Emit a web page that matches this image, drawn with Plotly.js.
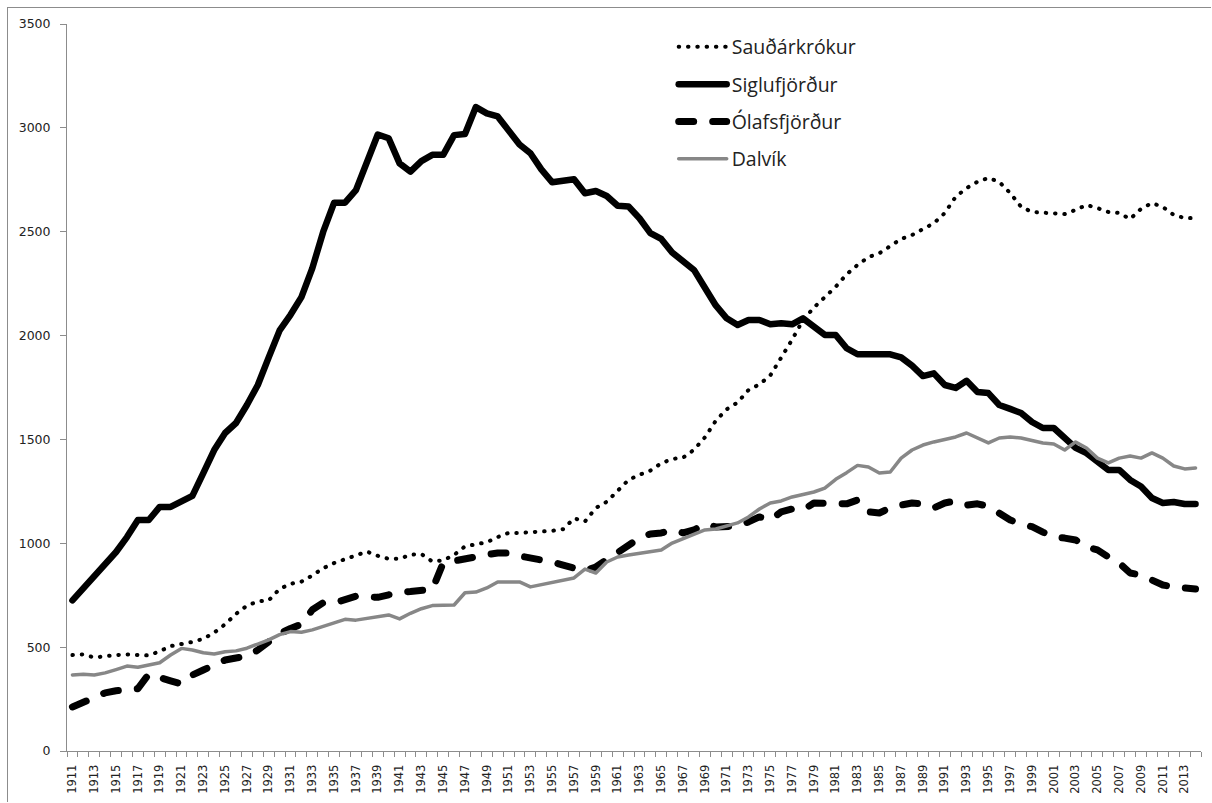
<!DOCTYPE html>
<html>
<head>
<meta charset="utf-8">
<script src="https://cdn.plot.ly/plotly-3.0.1.min.js"></script>
<style>
  html, body { margin: 0; padding: 0; background: #fff; }
  #wrap { position: relative; width: 1212px; height: 803px; }
  #chart { width: 1212px; height: 803px; }
  #frame { position: absolute; left: 7px; top: 7px; width: 1204px; height: 795px; border: 1px solid #8c8c8c; border-right: none; border-bottom: none; pointer-events: none; box-sizing: border-box; }
  .js-line { stroke-linecap: round !important; stroke-linejoin: round !important; }
</style>
</head>
<body>
<div id="wrap"><div id="chart"></div><div id="frame"></div></div>
<script>
const years = [1911,1912,1913,1914,1915,1916,1917,1918,1919,1920,
1921,1922,1923,1924,1925,1926,1927,1928,1929,1930,
1931,1932,1933,1934,1935,1936,1937,1938,1939,1940,
1941,1942,1943,1944,1945,1946,1947,1948,1949,1950,
1951,1952,1953,1954,1955,1956,1957,1958,1959,1960,
1961,1962,1963,1964,1965,1966,1967,1968,1969,1970,
1971,1972,1973,1974,1975,1976,1977,1978,1979,1980,
1981,1982,1983,1984,1985,1986,1987,1988,1989,1990,
1991,1992,1993,1994,1995,1996,1997,1998,1999,2000,
2001,2002,2003,2004,2005,2006,2007,2008,2009,2010,
2011,2012,2013,2014];

const saudarkrokur = [462,465,450,458,462,465,462,460,480,505,
515,525,540,570,610,660,700,720,725,780,
805,815,845,880,905,925,945,960,940,925,
925,945,948,912,918,944,985,995,1005,1030,
1050,1050,1052,1058,1060,1068,1120,1105,1170,1200,
1255,1305,1330,1350,1385,1406,1412,1450,1510,1590,
1645,1678,1738,1765,1808,1890,1980,2075,2135,2185,
2235,2295,2340,2378,2396,2431,2465,2484,2512,2541,
2590,2668,2710,2740,2759,2740,2686,2620,2595,2592,
2592,2585,2605,2629,2614,2595,2590,2561,2610,2638,
2619,2581,2566,2565];

const siglufjordur = [725,785,838,900,958,1030,1112,1112,1175,1175,
1199,1228,1338,1449,1531,1579,1666,1762,1895,2025,
2100,2185,2325,2500,2640,2640,2700,2835,2968,2950,
2829,2789,2840,2870,2870,2965,2970,3100,3070,3055,
2982,2920,2878,2800,2738,2748,2753,2685,2696,2672,
2625,2621,2565,2493,2465,2400,2356,2316,2230,2145,
2083,2051,2075,2075,2054,2059,2054,2083,2043,2003,
2003,1939,1910,1912,1915,1910,1895,1855,1805,1818,
1762,1748,1782,1728,1723,1666,1647,1627,1584,1555,
1555,1507,1459,1434,1391,1353,1353,1305,1273,1218,
1194,1199,1189,1189];

const olafsfjordur = [212,236,262,280,290,297,300,370,350,338,
323,366,390,414,438,448,456,486,526,565,
590,610,680,714,713,725,745,742,740,752,
765,768,770,778,905,915,930,942,945,953,
953,939,929,924,910,895,881,867,886,920,
953,982,1025,1045,1050,1064,1050,1064,1093,1079,
1079,1083,1103,1127,1112,1151,1165,1160,1194,1194,
1189,1190,1208,1151,1146,1170,1184,1194,1190,1170,
1194,1204,1184,1190,1178,1146,1112,1093,1080,1054,
1030,1025,1016,982,968,934,905,857,847,823,
799,790,785,780];

const dalvik = [366,370,366,376,392,409,403,414,425,462,
494,486,473,467,478,482,495,515,535,560,
575,572,583,600,615,634,630,638,648,655,
636,663,685,700,702,703,762,765,785,814,
814,814,790,800,814,823,833,876,857,910,
934,944,953,958,968,1001,1021,1040,1064,1069,
1083,1098,1127,1165,1194,1204,1223,1237,1247,1266,
1308,1340,1375,1367,1338,1343,1410,1449,1473,1488,
1502,1512,1531,1507,1483,1507,1512,1507,1493,1483,
1478,1449,1488,1459,1410,1387,1410,1420,1410,1435,
1410,1372,1358,1363];

const seriesNames = ['Sauðárkrókur','Siglufjörður','Ólafsfjörður','Dalvík'];
const yTicks = [0,500,1000,1500,2000,2500,3000,3500];

const labelYears = years.filter(y => y % 2 === 1);
const boundaries = years.map(y => y - 0.5).concat([years[years.length-1] + 0.5]);

const traces = [
  {x: years, y: saudarkrokur, name: seriesNames[0], legendgroup: 'a', mode: 'lines',
   line: {color: '#000', width: 4, dash: '0.5px,8.8px'}},
  {x: years, y: siglufjordur, name: seriesNames[1], legendgroup: 'b', mode: 'lines',
   line: {color: '#000', width: 6.5}},
  {x: years, y: olafsfjordur, name: seriesNames[2], legendgroup: 'c', mode: 'lines',
   line: {color: '#000', width: 7, dash: '15px,19px'}},
  {x: years, y: dalvik, name: seriesNames[3], legendgroup: 'd', mode: 'lines',
   line: {color: '#878787', width: 3.5}}
];

const layout = {
  width: 1212, height: 803,
  margin: {l: 67, r: 11, t: 24, b: 52},
  paper_bgcolor: '#fff', plot_bgcolor: '#fff',
  showlegend: true,
  legend: {x: 0.535, y: 0.995, xanchor: 'left', yanchor: 'top',
    font: {family: 'Open Sans, sans-serif', size: 19.5, color: '#222'},
    tracegroupgap: 9, itemwidth: 48, bgcolor: 'rgba(0,0,0,0)'},
  xaxis: {
    range: [years[0] - 0.5, years[years.length-1] + 0.5],
    tickmode: 'array', tickvals: labelYears, ticktext: labelYears.map(String),
    tickangle: -90, ticks: '', showgrid: false, zeroline: false,
    showline: true, linecolor: '#8c8c8c', linewidth: 1,
    tickfont: {family: 'DejaVu Sans, sans-serif', size: 11.5, color: '#222'},
    ticklabelstandoff: 8,
    minor: {tickmode: 'array', tickvals: boundaries, ticks: 'outside', ticklen: 5, tickcolor: '#8c8c8c', showgrid: false}
  },
  yaxis: {
    range: [0, 3500], tickmode: 'array', tickvals: yTicks, ticktext: yTicks.map(String),
    ticks: 'outside', ticklen: 6, tickcolor: '#8c8c8c',
    showgrid: false, zeroline: false, showline: true, linecolor: '#8c8c8c', linewidth: 1,
    tickfont: {family: 'DejaVu Sans, sans-serif', size: 12.5, color: '#222'},
    ticklabelstandoff: 7
  }
};

Plotly.newPlot('chart', traces, layout, {displayModeBar: false, staticPlot: true});
</script>
</body>
</html>
